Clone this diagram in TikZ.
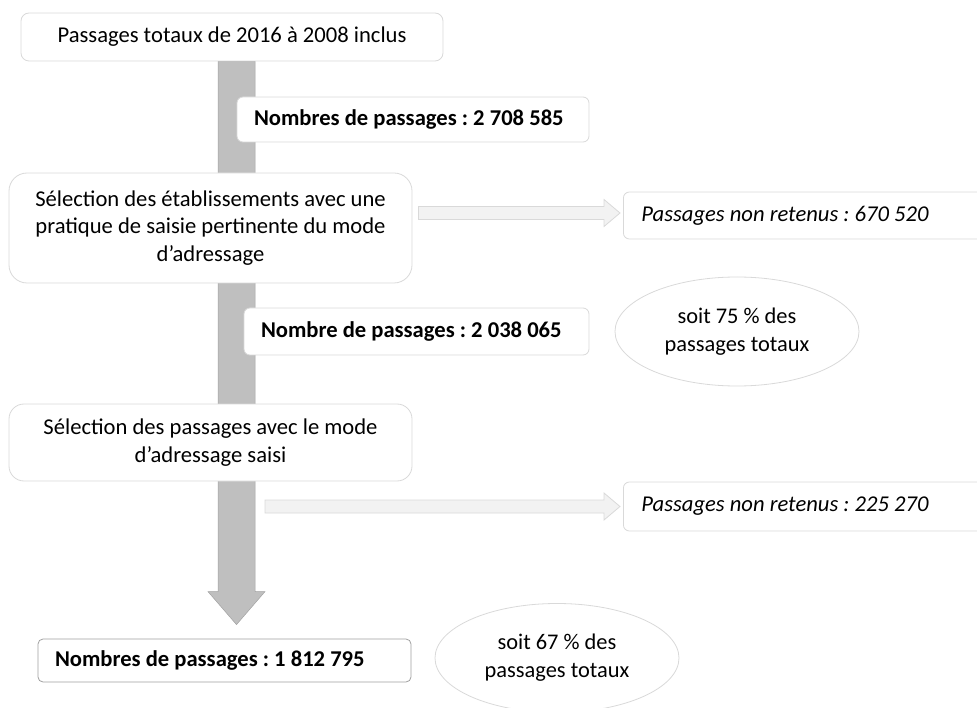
\documentclass[tikz,border=0pt]{standalone}
\usepackage{fontspec}
\setmainfont{Carlito}
\frenchspacing
\usetikzlibrary{positioning, calc, backgrounds, shapes.geometric}
\definecolor{cB}{RGB}{217,217,217}
\definecolor{cD}{RGB}{160,160,160}
\definecolor{cG}{RGB}{191,191,191}
\definecolor{cL}{RGB}{242,242,242}

\begin{document}
\begin{tikzpicture}[x=1pt, y=-1pt, line width=0.8pt,
                    every node/.style={font=\fontsize{22.6}{27.5}\selectfont},
                    etapebox/.style={draw=cB, fill=white, rounded corners=#1, align=center, inner sep=0pt},
                    etapebox/.default=8pt,
                    comptebox/.style={draw=cB, fill=white, rounded corners=6pt,
                                      inner xsep=17pt, inner ysep=0pt, font=\fontsize{22.6}{27.5}\selectfont\bfseries},
                    rejetbox/.style={draw=cB, fill=white, rounded corners=6pt, anchor=west,
                                     inner xsep=18pt, inner ysep=0pt, font=\fontsize{22.6}{27.5}\selectfont\itshape},
                    partell/.style={ellipse, draw=cB, fill=white, align=center, inner sep=0pt,
                                    minimum width=244pt, minimum height=109pt, font=\fontsize{22.4}{28}\selectfont}]

    \useasboundingbox (0,0) rectangle (977,708);
    \clip (0,0) rectangle (977,708);

    % Steps of the selection
    \node[etapebox, minimum width=422pt, minimum height=48pt] (tot) at (232,37)
        {Passages totaux de 2016 à 2008 inclus};
    \node[comptebox, minimum height=45pt] (n1) at (413,119.5)
        {\makebox[318pt][l]{Nombres de passages : 2 708 585}};
    \node[etapebox=18pt, minimum width=403pt, minimum height=110pt] (sel1) at (210.5,228)
        {Sélection des établissements avec une\\pratique de saisie pertinente du mode\\d’adressage};
    \node[comptebox, minimum height=47pt] (n2) at (416.5,331.5)
        {\makebox[311pt][l]{Nombre de passages : 2 038 065}};
    \node[etapebox=15pt, minimum width=403pt, minimum height=77pt] (sel2) at (210.5,442.5)
        {Sélection des passages avec le mode\\d’adressage saisi};
    \node[comptebox, draw=cD, rounded corners=5pt, minimum height=43pt] (n3) at (224.5,660.5)
        {\makebox[339pt][l]{Nombres de passages : 1 812 795}};

    % Passages left out
    \node[rejetbox, minimum height=47pt] (rej1) at (623,215.5)
        {\makebox[326pt][l]{Passages non retenus : 670 520}};
    \node[rejetbox, minimum height=49pt] (rej2) at (623,506.5)
        {\makebox[326pt][l]{Passages non retenus : 225 270}};

    % Shares of the total
    \node[partell] (p75) at (737,331.5) {soit 75 \% des\\passages totaux};
    \node[partell] (p67) at (557,658) {soit 67 \% des\\passages totaux};

    % Main flow (behind the boxes)
    \coordinate (bartop) at ($(tot.south)+(4.5,0)$);
    \coordinate (bartip) at ($(n3.north)+(12,-14)$);
    \begin{scope}[on background layer]
        \fill[cG, draw=cG!85!black, line width=0.5pt]
            ($(bartop)+(-18.5,0)$) -- ($(bartip)+(-18.5,-33)$) -- ($(bartip)+(-28.5,-33)$)
            -- (bartip) -- ($(bartip)+(28.5,-33)$) -- ($(bartip)+(18.5,-33)$)
            -- ($(bartop)+(18.5,0)$) -- cycle;
    \end{scope}

    % Side arrows to the left-out passages
    \coordinate (s1) at ($(sel1.east |- rej1.west)+(6,-2.5)$);
    \coordinate (e1) at ($(rej1.west)+(-3,-2.5)$);
    \coordinate (s2) at ($(bartop |- rej2.west)+(28.5,0)$);
    \coordinate (e2) at ($(rej2.west)+(-3,0)$);
    \foreach \s/\e in {s1/e1, s2/e2}
        \draw[fill=cL, draw=cB]
            ($(\s)+(0,-6.5)$) -- ($(\e)+(-16,-6.5)$) -- ($(\e)+(-16,-13.5)$)
            -- (\e) -- ($(\e)+(-16,13.5)$) -- ($(\e)+(-16,6.5)$)
            -- ($(\s)+(0,6.5)$) -- cycle;

\end{tikzpicture}
\end{document}
